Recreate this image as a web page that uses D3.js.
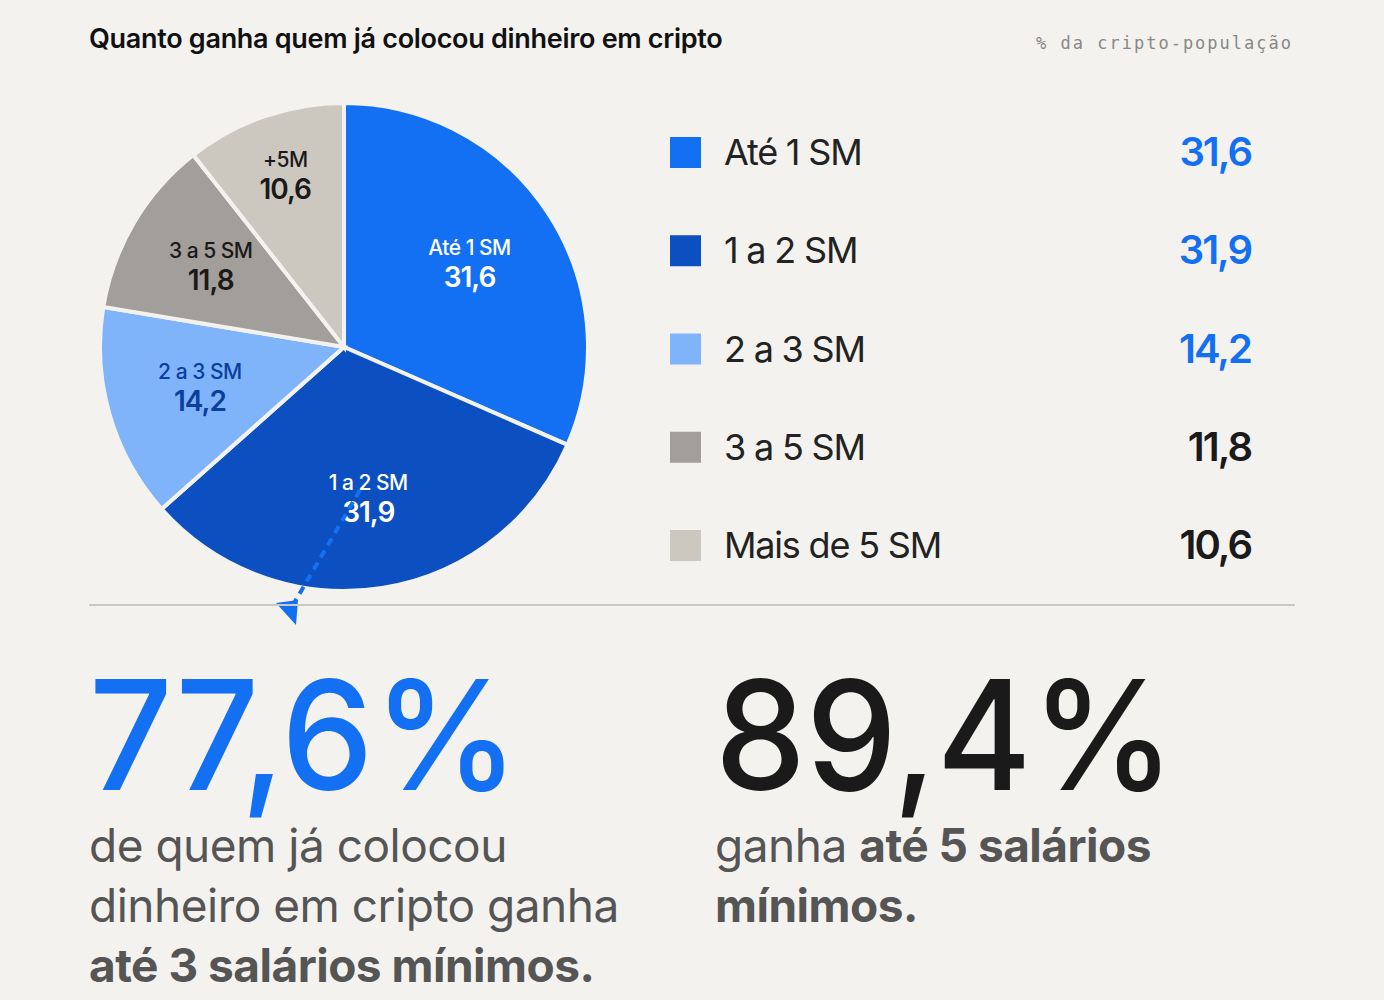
<!DOCTYPE html>
<html><head><meta charset="utf-8">
<script src="https://cdn.jsdelivr.net/npm/d3@7"></script>
<style>body{margin:0;background:#f4f2ef;font-family:Inter,"Noto Sans",sans-serif}</style>
</head><body>
<script>
const categories = ["Até 1 SM","1 a 2 SM","2 a 3 SM","3 a 5 SM","Mais de 5 SM"];
const sliceLabels = ["Até 1 SM","1 a 2 SM","2 a 3 SM","3 a 5 SM","+5M"];
const values = [31.6, 31.9, 14.2, 11.8, 10.6];
const colors = ["#1470f2","#0c4fc0","#80b4fa","#a29e99","#ccc7bf"];
const labelColors = ["#fff","#fff","#0c3f9c","#1a1a1a","#1a1a1a"];
const valueColors = ["#1470f2","#1470f2","#1470f2","#1a1a1a","#1a1a1a"];
const fmt = v => String(v).replace(".", ",");

const W = 1384, H = 1000;
const svg = d3.select("body").append("svg").attr("width", W).attr("height", H);
svg.append("rect").attr("width", W).attr("height", H).attr("fill", "#f4f2ef");

svg.append("text").attr("x", 89).attr("y", 48).attr("font-size", 27).attr("font-weight", 600)
  .attr("letter-spacing", -0.3).attr("fill", "#111").text("Quanto ganha quem já colocou dinheiro em cripto");
svg.append("text").attr("x", 1293).attr("y", 49).attr("text-anchor", "end").attr("font-size", 17)
  .attr("font-family", "DejaVu Sans Mono, monospace").attr("letter-spacing", 2).attr("fill", "#888").text("% da cripto-população");

// pie
const cx = 344, cy = 347, R = 244;
const pie = d3.pie().sort(null).value(d => d)(values);
const arc = d3.arc().innerRadius(0).outerRadius(R);
const g = svg.append("g").attr("transform", `translate(${cx},${cy})`);
g.selectAll("path").data(pie).join("path").attr("d", arc)
  .attr("fill", (d, i) => colors[i]).attr("stroke", "#f4f2ef").attr("stroke-width", 4);
const lblR = [150, 155, 150, 155, 180];
pie.forEach((d, i) => {
  const [x, y] = d3.arc().innerRadius(lblR[i]).outerRadius(lblR[i]).centroid(d);
  g.append("text").attr("x", x).attr("y", y - 10).attr("text-anchor", "middle").attr("font-size", 21)
    .attr("font-weight", 500).attr("fill", labelColors[i]).attr("letter-spacing", -0.5).text(sliceLabels[i]);
  g.append("text").attr("x", x).attr("y", y + 22).attr("text-anchor", "middle").attr("font-size", 28)
    .attr("font-weight", 600).attr("fill", labelColors[i]).attr("letter-spacing", -1).text(fmt(values[i]));
});

// dashed arrow
svg.append("path").attr("d", "M360,490 L293,605").attr("stroke", "#1470f2").attr("stroke-width", 4)
  .attr("stroke-dasharray", "8,6").attr("fill", "none");
svg.append("path").attr("d", "M276,603 L298,600 L296,625 Z").attr("fill", "#1470f2");

// legend
const ly = d3.scalePoint().domain(categories).range([152, 545]);
categories.forEach((c, i) => {
  const y = ly(c);
  svg.append("rect").attr("x", 670).attr("y", y - 15).attr("width", 31).attr("height", 31).attr("fill", colors[i]);
  svg.append("text").attr("x", 724).attr("y", y + 13).attr("font-size", 36).attr("fill", "#222")
    .attr("letter-spacing", -1.2).text(c);
  svg.append("text").attr("x", 1251).attr("y", y + 14).attr("text-anchor", "end").attr("font-size", 40)
    .attr("font-weight", 600).attr("letter-spacing", -2).attr("fill", valueColors[i]).text(fmt(values[i]));
});

svg.append("line").attr("x1", 89).attr("x2", 1295).attr("y1", 605).attr("y2", 605).attr("stroke", "#ccc9c4").attr("stroke-width", 2);

// big numbers
const big = [
  {x: 89, w: 430, t: "77,6%", c: "#1470f2", lines: [["de quem já colocou", ""], ["dinheiro em cripto ganha", ""], ["", "até 3 salários mínimos."]]},
  {x: 715, w: 460, t: "89,4%", c: "#1a1a1a", lines: [["ganha ", "até 5 salários"], ["", "mínimos."]]}
];
big.forEach(b => {
  svg.append("text").attr("x", b.x).attr("y", 790).attr("font-size", 152).attr("font-weight", 500)
    .attr("textLength", b.w).attr("lengthAdjust", "spacingAndGlyphs").attr("fill", b.c).text(b.t);
  b.lines.forEach((l, j) => {
    const t = svg.append("text").attr("x", b.x).attr("y", 862 + j * 60).attr("font-size", 46)
      .attr("letter-spacing", -0.5).attr("fill", "#555");
    if (l[0]) t.append("tspan").text(l[0]);
    if (l[1]) t.append("tspan").attr("font-weight", 700).text(l[1]);
  });
});
</script>
</body></html>
